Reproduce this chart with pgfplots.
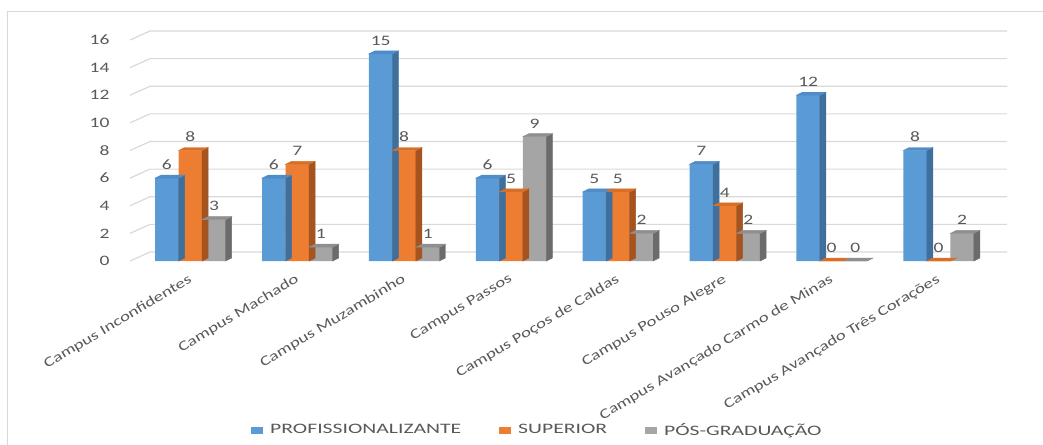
\documentclass[border=0pt]{standalone}
\usepackage{fontspec}
\setmainfont{Carlito}[FakeStretch=1.35]
\newfontfamily\legfont{Carlito}[FakeStretch=1.5]
\usepackage{pgfplots}
\pgfplotsset{compat=1.18}
\definecolor{cB}{HTML}{5B9BD5}
\definecolor{cBs}{HTML}{3F6F9C}
\definecolor{cBt}{HTML}{4F8CC8}
\definecolor{cO}{HTML}{ED7D31}
\definecolor{cOs}{HTML}{A5531F}
\definecolor{cOt}{HTML}{D96F27}
\definecolor{cG}{HTML}{A5A5A5}
\definecolor{cGs}{HTML}{6B6B6B}
\definecolor{cGt}{HTML}{8F8F8F}
\definecolor{txt}{HTML}{595959}
\definecolor{grd}{HTML}{D9D9D9}

\pgfplotsset{
  /pgf/number format/assume math mode=true,
  front/.style={ybar, bar width=0.22, bar shift=0pt, draw=none, fill=#1,
    nodes near coords,
    legend image code/.code={\fill[#1] (0bp,-3.5bp) rectangle (12bp,3.5bp);}},
  box3d/.style n args={2}{scatter, only marks, mark=*, mark size=0pt, forget plot,
    visualization depends on={rawy \as \ry},
    scatter/@pre marker code/.code={%
      \fill[#1] (11.75bp,{-\ry*13.8125bp}) -- (11.75bp,0bp) -- (17.75bp,3bp) -- (17.75bp,{3bp-\ry*13.8125bp}) -- cycle;
      \fill[#2] (-11.75bp,0bp) -- (11.75bp,0bp) -- (17.75bp,3bp) -- (-5.75bp,3bp) -- cycle;
    },
    scatter/@post marker code/.code={}
  }
}

\begin{document}
\begin{tikzpicture}
\useasboundingbox (-137bp,-184bp) rectangle (906bp,261bp);
\draw[grd, line width=1bp] (-129bp,-200bp) -- (-129bp,249bp) -- (920bp,249bp);
\begin{axis}[
  scale only axis, width=855bp, height=221bp,
  xmin=-0.5, xmax=7.5, ymin=0, ymax=16,
  clip=false,
  axis line style={draw=none},
  tick style={draw=none},
  ytick={0,2,4,6,8,10,12,14,16},
  xtick={0,1,2,3,4,5,6,7},
  xticklabels={Campus Inconfidentes, Campus Machado, Campus Muzambinho, Campus Passos, Campus Poços de Caldas, Campus Pouso Alegre, Campus Avançado Carmo de Minas, Campus Avançado Três Corações},
  ticklabel style={font=\fontsize{14.5}{17}\selectfont, text=txt},
  yticklabel style={xshift=-24bp},
  xticklabel style={font=\fontsize{14}{16}\selectfont, rotate=31, anchor=north east, inner sep=1bp, xshift=-3bp},
  xticklabel shift=9bp,
  every node near coord/.append style={font=\fontsize{14.5}{17}\selectfont, text=txt, yshift=5bp},
  legend style={at={(114bp,-169bp)}, anchor=west, draw=none, fill=none, inner sep=0pt,
    legend columns=3, font=\legfont\fontsize{14.5}{17}\selectfont, text=txt,
    nodes={inner sep=0bp},
    /tikz/every odd column/.append style={column sep=7bp},
    /tikz/every even column/.append style={column sep=38bp}},
]
\pgfplotsinvokeforeach{0,2,4,6,8,10,12,14,16}{
  \draw[grd, line width=1.2bp] (axis cs:-0.5,#1) ++(-7bp,0bp) -- ++(20bp,9bp) -- ++(857bp,0bp);
}
\addplot[front=cB] coordinates {(-0.22,6) (0.78,6) (1.78,15) (2.78,6) (3.78,5) (4.78,7) (5.78,12) (6.78,8)};
\addlegendentry{PROFISSIONALIZANTE}
\addplot[box3d={cBs}{cBt}] coordinates {(-0.22,6) (0.78,6) (1.78,15) (2.78,6) (3.78,5) (4.78,7) (5.78,12) (6.78,8)};
\addplot[front=cO] coordinates {(0,8) (1,7) (2,8) (3,5) (4,5) (5,4) (6,0) (7,0)};
\addlegendentry{SUPERIOR}
\addplot[box3d={cOs}{cOt}] coordinates {(0,8) (1,7) (2,8) (3,5) (4,5) (5,4) (6,0) (7,0)};
\addplot[front=cG] coordinates {(0.22,3) (1.22,1) (2.22,1) (3.22,9) (4.22,2) (5.22,2) (6.22,0) (7.22,2)};
\addlegendentry{PÓS-GRADUAÇÃO}
\addplot[box3d={cGs}{cGt}] coordinates {(0.22,3) (1.22,1) (2.22,1) (3.22,9) (4.22,2) (5.22,2) (6.22,0) (7.22,2)};
\end{axis}
\end{tikzpicture}
\end{document}
